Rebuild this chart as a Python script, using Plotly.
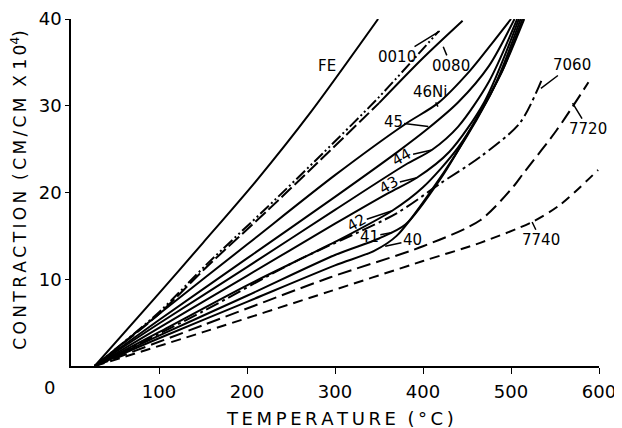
import plotly.graph_objects as go

# Temperature (deg C) / contraction (cm/cm x 10^4)
fe_t = [27, 95, 150, 211, 272, 349]
fe_y = [0, 7.8, 14.2, 21.4, 29.2, 40]

g0010_t = [27, 100, 155, 223, 286, 350, 418]
g0010_y = [0, 6.2, 11.8, 18.3, 24.5, 31.0, 38.6]

g0080_t = [27, 100, 155, 223, 286, 350, 400, 445]
g0080_y = [0, 6.0, 11.5, 17.9, 24.0, 30.3, 35.5, 39.8]

ni46_t = [27, 100, 200, 300, 380, 417, 453, 480, 500]
ni46_y = [0, 6.0, 14.0, 22.0, 27.9, 30.3, 34.0, 37.4, 40]

ni45_t = [27, 100, 200, 300, 370, 406, 440, 475, 504]
ni45_y = [0, 5.3, 12.4, 19.5, 24.6, 27.4, 30.4, 34.6, 40]

ni44_t = [27, 100, 200, 300, 380, 410, 440, 475, 507]
ni44_y = [0, 4.9, 11.4, 18.0, 23.2, 24.9, 27.6, 32.8, 40]

ni43_t = [27, 100, 200, 300, 360, 393, 430, 470, 509]
ni43_y = [0, 4.4, 10.4, 16.4, 19.9, 21.7, 24.7, 30.5, 40]

ni42_t = [27, 100, 200, 300, 365, 400, 440, 480, 511]
ni42_y = [0, 3.9, 9.3, 14.3, 17.9, 20.6, 25.2, 32.0, 40]

ni41_t = [27, 100, 200, 300, 350, 380, 420, 460, 490, 513]
ni41_y = [0, 3.5, 8.1, 12.8, 14.7, 16.3, 21.6, 28.4, 34.0, 40]

ni40_t = [27, 100, 200, 300, 345, 370, 410, 461, 490, 515]
ni40_y = [0, 3.2, 7.4, 11.6, 13.3, 15.0, 20.3, 28.4, 34.0, 40]

g7060_t = [27, 150, 252, 370, 419, 465, 510, 535]
g7060_y = [0, 6.3, 11.9, 17.6, 21.0, 24.1, 28.0, 33.0]

g7720_t = [27, 150, 294, 400, 465, 502, 514, 552, 588]
g7720_y = [0, 4.7, 10.2, 13.8, 16.8, 20.6, 22.2, 27.2, 32.7]

g7740_t = [27, 150, 294, 400, 465, 524, 556, 599]
g7740_y = [0, 3.9, 8.6, 12.1, 14.2, 16.6, 18.6, 22.6]

x_ticks = [100, 200, 300, 400, 500, 600]
y_ticks = [10, 20, 30, 40]

FONT = "DejaVu Sans"
INK = "black"
THIN = "\u2009"

fig = go.Figure()


def add_curve(t, y, dash="solid"):
    fig.add_trace(go.Scatter(
        x=t, y=y, mode="lines",
        line=dict(color=INK, width=2, dash=dash, shape="spline", smoothing=0.8),
        hoverinfo="skip",
    ))


def spaced(s):
    # wide lettering like the hand-lettered original
    return THIN.join(s)


add_curve(fe_t, fe_y)
add_curve(g0010_t, g0010_y, "12px,3px,2px,3px,2px,3px")
# 0080 is dashed low down and solid near the top
add_curve(g0080_t[:6], g0080_y[:6], "14px,4px")
add_curve(g0080_t[5:], g0080_y[5:])
for t, y in [(ni46_t, ni46_y), (ni45_t, ni45_y), (ni44_t, ni44_y),
             (ni43_t, ni43_y), (ni42_t, ni42_y), (ni41_t, ni41_y),
             (ni40_t, ni40_y)]:
    add_curve(t, y)
add_curve(g7060_t, g7060_y, "14px,4px,3px,4px")
add_curve(g7720_t, g7720_y, "14px,6px")
add_curve(g7740_t, g7740_y, "10px,6px")

# curve labels: (text, label x, label y, leader end x, leader end y, angle)
labels = [
    ("0010", 371, 35.6, 419, 38.6, 0),
    ("0080", 432, 34.6, 423, 36.8, 0),
    ("46Ni", 408, 31.6, 417, 29.9, 0),
    ("45", 366, 28.1, 406, 27.6, 0),
    ("44", 376, 24.1, 410, 24.9, -30),
    ("43", 361, 20.9, 393, 21.7, -30),
    ("42", 324, 16.5, 365, 17.9, -30),
    ("41", 339, 14.9, 365, 15.4, 0),
    ("40", 388, 14.5, 357, 13.8, 0),
    ("7060", 569, 34.7, 534, 32.0, 0),
    ("7720", 588, 27.3, 570, 30.3, 0),
    ("7740", 534, 14.5, 524, 16.6, 0),
]
for text, lx, ly, px, py, ang in labels:
    fig.add_annotation(
        x=px, y=py, ax=lx, ay=ly, axref="x", ayref="y",
        text=text, textangle=ang, showarrow=True, arrowhead=0,
        arrowwidth=1.5, arrowcolor=INK, standoff=0, startstandoff=0,
        font=dict(family=FONT, size=15, color=INK),
    )

fig.add_annotation(x=291, y=34.6, text="FE", showarrow=False,
                   font=dict(family=FONT, size=15, color=INK))

# origin label, axis titles
fig.add_annotation(x=-0.04, y=-0.063, xref="paper", yref="paper", text="0",
                   xanchor="center", yanchor="middle", showarrow=False,
                   font=dict(family=FONT, size=18, color=INK))
fig.add_annotation(x=0.509, y=-0.15, xref="paper", yref="paper",
                   text=spaced("TEMPERATURE") + "  " + spaced("(°C)"),
                   xanchor="center", yanchor="middle", showarrow=False,
                   font=dict(family=FONT, size=18, color=INK))
fig.add_annotation(x=-0.099, y=0.507, xref="paper", yref="paper",
                   text=spaced("CONTRACTION") + "  " + spaced("(CM/CM")
                   + "  " + spaced("X") + " " + spaced("10") + "<sup>4</sup>)",
                   textangle=-90, xanchor="center", yanchor="middle",
                   showarrow=False, font=dict(family=FONT, size=17, color=INK))

# the page body has an 8px margin, so the figure is 8px smaller and offset
fig.update_layout(
    width=614, height=420,
    margin=dict(l=63, r=23, t=11, b=62),
    paper_bgcolor="white", plot_bgcolor="white",
    showlegend=False,
    font=dict(family=FONT, color=INK),
    xaxis=dict(range=[0, 600], tickvals=x_ticks, showgrid=False, zeroline=False,
               showline=True, linecolor=INK, linewidth=1.5, ticks="outside",
               ticklen=6, tickcolor=INK, tickfont=dict(size=18),
               ticklabelstandoff=3, automargin=False),
    yaxis=dict(range=[0, 40], tickvals=y_ticks, showgrid=False, zeroline=False,
               showline=True, linecolor=INK, linewidth=1.5, ticks="outside",
               ticklen=4, tickcolor=INK, tickfont=dict(size=18),
               automargin=False),
)

fig.write_html("out.html")
